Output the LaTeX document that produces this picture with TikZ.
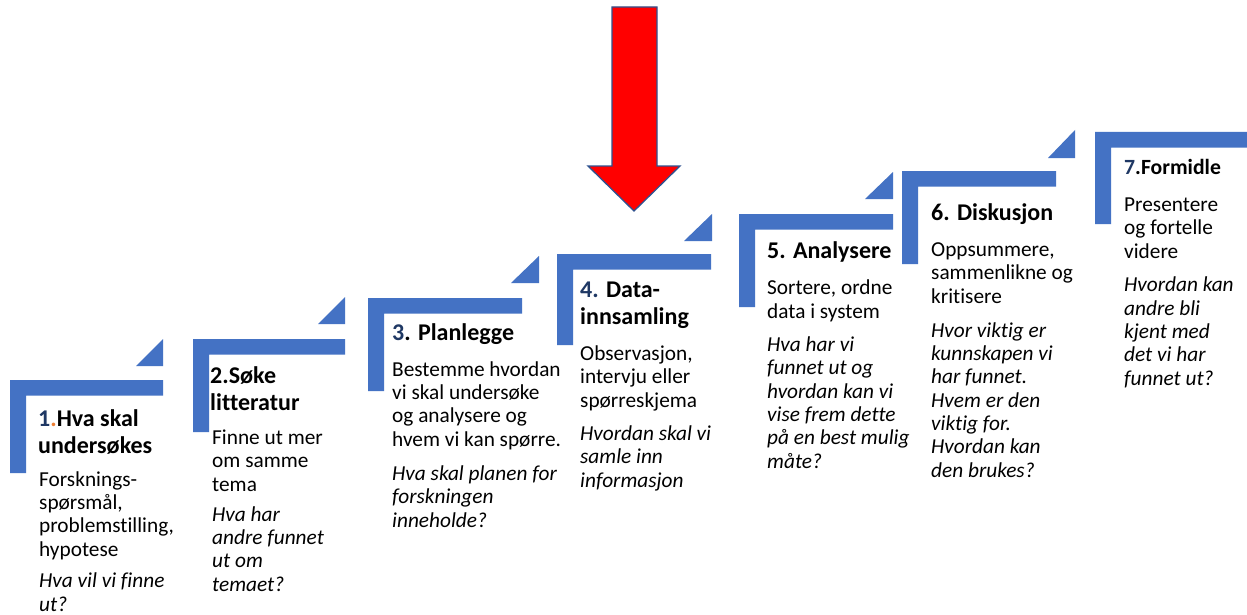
\documentclass[tikz,border=0pt]{standalone}
\usepackage{fontspec}
\setmainfont{Carlito}[Ligatures={NoCommon}]
\definecolor{stepblue}{HTML}{4472C4}
\definecolor{navy}{HTML}{1F3864}
\definecolor{dotorange}{HTML}{ED7D31}
\definecolor{arrowedge}{HTML}{2F528F}
\tikzset{
  stepshape/.style={fill=stepblue, draw=none},
  ttl/.style={font=\fontsize{24}{26.4}\selectfont\bfseries, align=left, anchor=base west, inner sep=0pt},
  ttlsmall/.style={font=\fontsize{21.7}{24}\selectfont\bfseries, align=left, anchor=base west, inner sep=0pt},
  bdy/.style={font=\fontsize{21.3}{23.3}\selectfont, align=left, anchor=base west, inner sep=0pt},
  itl/.style={font=\fontsize{21.3}{23.3}\selectfont\itshape, align=left, anchor=base west, inner sep=0pt},
}
% #1 left, #2 top, #3 right, #4 bottom of vertical bar
\newcommand{\stepL}[4]{%
  \fill[stepshape] (#1,#2) -- (#3,#2) -- (#3,#2+15.5) -- (#1+16,#2+15.5) -- (#1+16,#4) -- (#1,#4) -- cycle;}
% triangle: #1 left, #2 right, #3 top, #4 bottom
\newcommand{\stepTri}[4]{%
  \fill[stepshape] (#1,#4) -- (#2,#4) -- (#2,#3) -- cycle;}
\begin{document}
\begin{tikzpicture}[x=1pt,y=-1pt]
\useasboundingbox (0,0) rectangle (1247,615);
\fill[white] (0,0) rectangle (1247,615);

% steps
\stepL{10}{380}{163}{473}   \stepTri{136}{163}{339}{366}
\stepL{193}{339}{345}{432}  \stepTri{318}{345}{297}{324}
\stepL{368}{298}{522}{391}  \stepTri{511}{539}{256}{283}
\stepL{557}{254}{711}{345}  \stepTri{684}{712}{214}{241}
\stepL{739}{214}{893}{307}  \stepTri{865}{893}{172}{199}
\stepL{902}{171}{1056}{264} \stepTri{1048}{1075}{130}{158}
\stepL{1095}{132}{1250}{224}

% red arrow
\draw[fill=red, draw=arrowedge, line width=1.3pt, line join=miter]
  (612,7) -- (657,7) -- (657,166) -- (680,166) -- (634,211) -- (588,166) -- (612,166) -- cycle;

% (node positions give the baseline of the LAST line of each block)
% step 1
\node[ttl] (t1) at (38,453) {{\color{navy}1}{\color{dotorange}.}Hva skal\\undersøkes};
\node[bdy] (b1) at (39,556) {Forsknings-\\spørsmål,\\problemstilling,\\hypotese};
\node[itl] (i1) at (39,611) {Hva vil vi finne\\ut?};
% step 2
\node[ttl] (t2) at (210,410) {2.Søke\\litteratur};
\node[bdy] (b2) at (212,491) {Finne ut mer\\om samme\\tema};
\node[itl] (i2) at (212,591) {Hva har\\andre funnet\\ut om\\temaet?};
% step 3
\node[ttl] (t3) at (392,340) {{\color{navy}3}. Planlegge};
\node[bdy] (b3) at (392,446) {Bestemme hvordan\\vi skal undersøke\\og analysere og\\hvem vi kan spørre.};
\node[itl] (i3) at (392,527) {Hva skal planen for\\forskningen\\inneholde?};
% step 4
\node[ttl] (t4) at (580,324) {{\color{navy}4.} Data-\\innsamling};
\node[bdy] (b4) at (580,407) {Observasjon,\\intervju eller\\spørreskjema};
\node[itl] (i4) at (580,487) {Hvordan skal vi\\samle inn\\informasjon};
% step 5
\node[ttl] (t5) at (767,258) {5. Analysere};
\node[bdy] (b5) at (767,318) {Sortere, ordne\\data i system};
\node[itl] (i5) at (767,468) {Hva har vi\\funnet ut og\\hvordan kan vi\\vise frem dette\\på en best mulig\\måte?};
% step 6
\node[ttl] (t6) at (931,220) {6. Diskusjon};
\node[bdy] (b6) at (931,303) {Oppsummere,\\sammenlikne og\\kritisere};
\node[itl] (i6) at (931,477) {Hvor viktig er\\kunnskapen vi\\har funnet.\\Hvem er den\\viktig for.\\Hvordan kan\\den brukes?};
% step 7
\node[ttlsmall] (t7) at (1124,175) {{\color{navy}7}.Formidle};
\node[bdy] (b7) at (1124,258) {Presentere\\og fortelle\\videre};
\node[itl] (i7) at (1124,385) {Hvordan kan\\andre bli\\kjent med\\det vi har\\funnet ut?};
\end{tikzpicture}
\end{document}
